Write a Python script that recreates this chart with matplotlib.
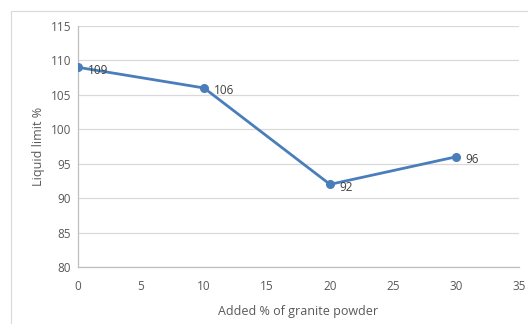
import matplotlib.pyplot as plt
from matplotlib.patches import Rectangle

# granite powder content vs liquid limit
granite_pct = [0, 10, 20, 30]
liquid_limit = [109, 106, 92, 96]

plt.rcParams['font.family'] = ['Open Sans', 'DejaVu Sans']
txt = '#595959'
blue = '#4A7EBB'

fig = plt.figure(figsize=(5.28, 3.24), dpi=100)
# outer chart frame
fig.patches.append(Rectangle((11 / 528, -0.1), 1.2, 1.1 - 11 / 324, transform=fig.transFigure,
                             fill=False, edgecolor='#D9D9D9', linewidth=0.8))

ax = fig.add_axes([78 / 528, 57 / 324, 441 / 528, 241 / 324])
ax.plot(granite_pct, liquid_limit, color=blue, linewidth=2, marker='o', markersize=5.5, zorder=3)
for x, y in zip(granite_pct, liquid_limit):
    ax.annotate(str(y), (x, y), xytext=(7, -2), textcoords='offset points',
                ha='left', va='center', fontsize=8.5, color='#404040')

ax.set_xlim(0, 35)
ax.set_ylim(80, 115)
ax.set_xticks(range(0, 36, 5))
ax.set_yticks(range(80, 116, 5))
ax.grid(axis='y', color='#D9D9D9', linewidth=0.9)
ax.set_axisbelow(True)
for side in ['top', 'right']:
    ax.spines[side].set_visible(False)
for side in ['left', 'bottom']:
    ax.spines[side].set_color('#BFBFBF')
    ax.spines[side].set_linewidth(0.9)
ax.tick_params(length=0, labelsize=8.5, colors=txt)
ax.tick_params(axis='y', pad=5)
ax.tick_params(axis='x', pad=9)
ax.set_xlabel('Added % of granite powder', fontsize=9, color=txt, labelpad=9)
ax.set_ylabel('Liquid limit %', fontsize=9, color=txt, labelpad=4)

fig.savefig('out.png', dpi=100)
